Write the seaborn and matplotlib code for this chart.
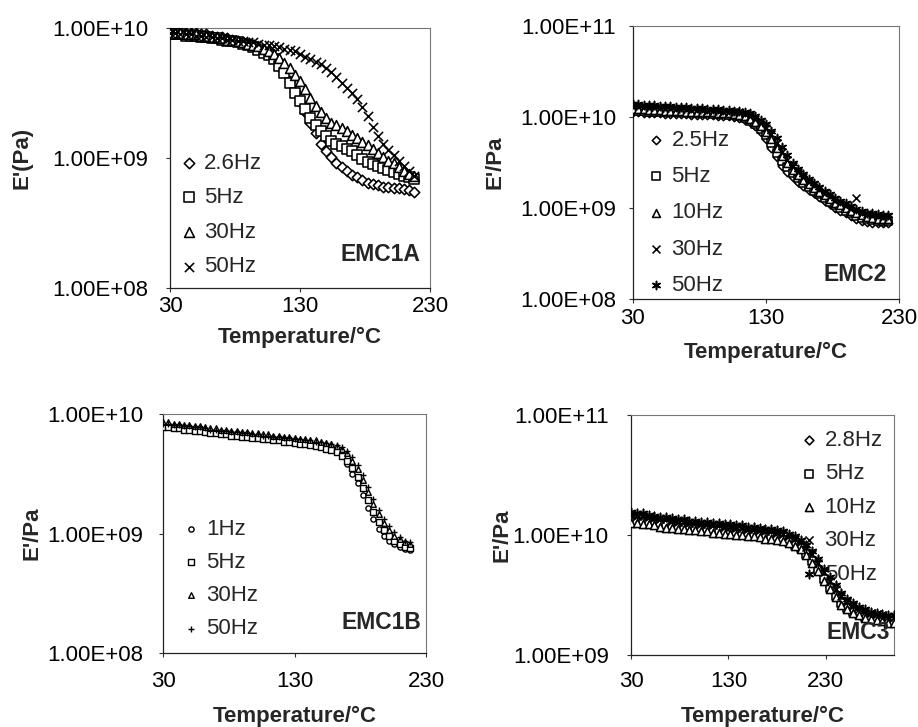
import matplotlib
matplotlib.use("Agg")
import matplotlib.pyplot as plt
from matplotlib.ticker import FixedLocator, FixedFormatter, NullLocator
import seaborn as sns

sns.set_theme(style="white")
plt.rcParams["font.family"] = ["Liberation Sans", "DejaVu Sans"]

# ---------------------------------------------------------------- data
# Storage modulus E' given as log10(E'/Pa); temperatures in deg C.

# EMC1A
t_emc1a = [30, 34, 38, 42, 46, 50, 54, 58, 62, 66, 70, 74, 78, 82, 86, 90, 94, 98,
           102, 106, 110, 114, 118, 122, 126, 130, 134, 138, 142, 146, 150, 154,
           158, 162, 166, 170, 174, 178, 182, 186, 190, 194, 198, 202, 206, 210,
           214, 218]
emc1a_2p6hz = [9.97, 9.97, 9.97, 9.96, 9.96, 9.96, 9.95, 9.95, 9.94, 9.93, 9.93, 9.92,
               9.91, 9.90, 9.89, 9.88, 9.86, 9.84, 9.82, 9.80, 9.77, 9.72, 9.66, 9.59,
               9.51, 9.43, 9.35, 9.27, 9.19, 9.11, 9.05, 9.01, 8.96, 8.93, 8.90, 8.87,
               8.85, 8.83, 8.81, 8.80, 8.79, 8.78, 8.78, 8.77, 8.77, 8.76, 8.75, 8.74]
emc1a_5hz = [9.95, 9.95, 9.95, 9.94, 9.94, 9.94, 9.93, 9.93, 9.92, 9.92, 9.91, 9.90,
             9.90, 9.89, 9.88, 9.87, 9.85, 9.83, 9.81, 9.79, 9.76, 9.71, 9.65, 9.58,
             9.50, 9.44, 9.38, 9.31, 9.25, 9.21, 9.17, 9.13, 9.11, 9.09, 9.07, 9.05,
             9.02, 8.99, 8.97, 8.95, 8.94, 8.92, 8.91, 8.89, 8.88, 8.86, 8.85, 8.84]
emc1a_30hz = [9.96, 9.96, 9.96, 9.95, 9.95, 9.95, 9.94, 9.94, 9.93, 9.93, 9.92, 9.91,
              9.91, 9.90, 9.89, 9.88, 9.87, 9.86, 9.84, 9.82, 9.80, 9.77, 9.73, 9.69,
              9.64, 9.59, 9.53, 9.46, 9.40, 9.35, 9.31, 9.27, 9.25, 9.23, 9.21, 9.18,
              9.15, 9.12, 9.10, 9.07, 9.04, 9.01, 8.98, 8.96, 8.93, 8.90, 8.88, 8.86]
emc1a_50hz = [9.96, 9.96, 9.95, 9.95, 9.95, 9.94, 9.94, 9.93, 9.93, 9.92, 9.92, 9.91,
              9.91, 9.90, 9.90, 9.89, 9.89, 9.88, 9.87, 9.87, 9.86, 9.85, 9.84, 9.83,
              9.82, 9.80, 9.78, 9.76, 9.74, 9.72, 9.69, 9.66, 9.62, 9.58, 9.54, 9.50,
              9.45, 9.39, 9.32, 9.24, 9.17, 9.11, 9.06, 9.02, 8.98, 8.94, 8.90, 8.86]

# EMC2
t_emc2 = [30, 34, 38, 42, 46, 50, 54, 58, 62, 66, 70, 74, 78, 82, 86, 90, 94, 98,
          102, 106, 110, 114, 118, 122, 126, 130, 134, 138, 142, 146, 150, 154, 158,
          162, 166, 170, 174, 178, 182, 186, 190, 194, 198, 202, 206, 210, 214, 218,
          222]
emc2_2p5hz = [10.05, 10.05, 10.04, 10.04, 10.04, 10.04, 10.03, 10.03, 10.03, 10.03,
              10.03, 10.02, 10.02, 10.02, 10.02, 10.02, 10.01, 10.01, 10.01, 10.00,
              9.99, 9.97, 9.94, 9.90, 9.84, 9.76, 9.66, 9.56, 9.46, 9.40, 9.34, 9.29,
              9.24, 9.20, 9.16, 9.12, 9.08, 9.04, 9.00, 8.97, 8.94, 8.91, 8.88, 8.86,
              8.85, 8.84, 8.83, 8.83, 8.83]
emc2_5hz = [10.07, 10.07, 10.07, 10.06, 10.06, 10.06, 10.06, 10.05, 10.05, 10.05,
            10.05, 10.04, 10.04, 10.04, 10.04, 10.03, 10.03, 10.03, 10.02, 10.02,
            10.01, 9.99, 9.96, 9.92, 9.87, 9.80, 9.71, 9.61, 9.52, 9.45, 9.39, 9.33,
            9.28, 9.23, 9.19, 9.15, 9.11, 9.07, 9.03, 9.00, 8.97, 8.94, 8.91, 8.89,
            8.88, 8.87, 8.86, 8.86, 8.86]
emc2_10hz = [10.09, 10.09, 10.09, 10.08, 10.08, 10.08, 10.07, 10.07, 10.07, 10.07,
             10.06, 10.06, 10.06, 10.05, 10.05, 10.05, 10.04, 10.04, 10.04, 10.03,
             10.02, 10.01, 9.98, 9.95, 9.90, 9.84, 9.76, 9.66, 9.57, 9.49, 9.42, 9.36,
             9.31, 9.26, 9.22, 9.18, 9.14, 9.10, 9.06, 9.03, 9.00, 8.97, 8.94, 8.92,
             8.90, 8.89, 8.88, 8.88, 8.88]
emc2_30hz = [10.12, 10.12, 10.11, 10.11, 10.11, 10.10, 10.10, 10.10, 10.09, 10.09,
             10.09, 10.08, 10.08, 10.08, 10.07, 10.07, 10.07, 10.06, 10.06, 10.05,
             10.05, 10.03, 10.01, 9.98, 9.94, 9.88, 9.81, 9.72, 9.62, 9.53, 9.46, 9.40,
             9.34, 9.29, 9.25, 9.21, 9.17, 9.13, 9.09, 9.06, 9.03, 9.00, 9.11, 8.95,
             8.93, 8.92, 8.91, 8.90, 8.90]
emc2_50hz = [10.14, 10.14, 10.13, 10.13, 10.13, 10.12, 10.12, 10.12, 10.11, 10.11,
             10.11, 10.10, 10.10, 10.10, 10.09, 10.09, 10.09, 10.08, 10.08, 10.07,
             10.07, 10.06, 10.04, 10.01, 9.97, 9.92, 9.85, 9.77, 9.67, 9.58, 9.50, 9.43,
             9.37, 9.32, 9.27, 9.23, 9.19, 9.15, 9.11, 9.08, 9.05, 9.02, 8.99, 8.97,
             8.95, 8.94, 8.93, 8.92, 8.92]

# EMC1B
t_emc1b = [30, 34, 38, 42, 46, 50, 54, 58, 62, 66, 70, 74, 78, 82, 86, 90, 94, 98,
           102, 106, 110, 114, 118, 122, 126, 130, 134, 138, 142, 146, 150, 154, 158,
           162, 166, 170, 174, 178, 182, 186, 190, 194, 198, 202, 206, 210, 214, 218]
emc1b_1hz = [9.91, 9.91, 9.90, 9.90, 9.89, 9.89, 9.88, 9.88, 9.87, 9.86, 9.86, 9.85,
             9.85, 9.84, 9.84, 9.83, 9.83, 9.82, 9.82, 9.81, 9.81, 9.80, 9.80, 9.79,
             9.79, 9.78, 9.77, 9.77, 9.76, 9.75, 9.74, 9.73, 9.72, 9.70, 9.65, 9.58,
             9.50, 9.42, 9.32, 9.21, 9.12, 9.04, 8.98, 8.94, 8.91, 8.89, 8.87, 8.86]
emc1b_5hz = [9.89, 9.89, 9.88, 9.88, 9.87, 9.87, 9.86, 9.86, 9.85, 9.84, 9.84, 9.83,
             9.83, 9.82, 9.82, 9.81, 9.81, 9.80, 9.80, 9.79, 9.79, 9.78, 9.78, 9.77,
             9.77, 9.76, 9.75, 9.75, 9.74, 9.73, 9.72, 9.71, 9.70, 9.68, 9.65, 9.61,
             9.55, 9.47, 9.38, 9.28, 9.18, 9.10, 9.03, 8.98, 8.94, 8.91, 8.89, 8.88]
emc1b_30hz = [9.93, 9.93, 9.92, 9.92, 9.91, 9.91, 9.90, 9.90, 9.89, 9.88, 9.88, 9.87,
              9.87, 9.86, 9.86, 9.85, 9.85, 9.84, 9.84, 9.83, 9.83, 9.82, 9.82, 9.81,
              9.81, 9.80, 9.79, 9.79, 9.78, 9.78, 9.77, 9.76, 9.75, 9.73, 9.71, 9.67,
              9.61, 9.54, 9.45, 9.35, 9.25, 9.16, 9.09, 9.03, 8.98, 8.95, 8.93, 8.91]
emc1b_50hz = [9.92, 9.92, 9.91, 9.91, 9.90, 9.90, 9.89, 9.89, 9.88, 9.87, 9.87, 9.86,
              9.86, 9.85, 9.85, 9.84, 9.84, 9.83, 9.83, 9.82, 9.82, 9.81, 9.81, 9.80,
              9.80, 9.79, 9.79, 9.78, 9.78, 9.77, 9.77, 9.76, 9.75, 9.74, 9.72, 9.69,
              9.64, 9.57, 9.49, 9.39, 9.29, 9.20, 9.12, 9.06, 9.01, 8.97, 8.94, 8.93]

# EMC3
t_emc3 = [30, 36, 42, 48, 54, 60, 66, 72, 78, 84, 90, 96, 102, 108, 114, 120, 126,
          132, 138, 144, 150, 156, 162, 168, 174, 180, 186, 192, 198, 204, 210, 216,
          222, 228, 234, 240, 246, 252, 258, 264, 270, 276, 282, 288, 294, 300]
emc3_2p8hz = [10.14, 10.13, 10.13, 10.12, 10.11, 10.10, 10.10, 10.09, 10.08, 10.08,
              10.07, 10.07, 10.06, 10.06, 10.05, 10.05, 10.04, 10.04, 10.03, 10.03,
              10.02, 10.02, 10.01, 10.00, 10.00, 9.99, 9.97, 9.95, 9.93, 9.89, 9.84,
              9.78, 9.71, 9.64, 9.57, 9.50, 9.45, 9.41, 9.38, 9.35, 9.33, 9.32, 9.31,
              9.30, 9.29, 9.29]
emc3_5hz = [10.11, 10.11, 10.10, 10.10, 10.09, 10.08, 10.08, 10.07, 10.06, 10.06,
            10.05, 10.05, 10.04, 10.04, 10.03, 10.03, 10.02, 10.02, 10.01, 10.01,
            10.00, 10.00, 9.99, 9.98, 9.98, 9.97, 9.96, 9.94, 9.92, 9.89, 9.84, 9.78,
            9.71, 9.63, 9.56, 9.49, 9.43, 9.39, 9.36, 9.34, 9.32, 9.31, 9.30, 9.29,
            9.28, 9.28]
emc3_10hz = [10.10, 10.10, 10.09, 10.09, 10.08, 10.07, 10.06, 10.06, 10.05, 10.05,
             10.04, 10.04, 10.03, 10.03, 10.02, 10.02, 10.01, 10.01, 10.00, 10.00,
             9.99, 9.99, 9.98, 9.97, 9.97, 9.96, 9.95, 9.93, 9.91, 9.88, 9.83, 9.77,
             9.70, 9.62, 9.55, 9.48, 9.42, 9.38, 9.35, 9.33, 9.31, 9.30, 9.29, 9.28,
             9.27, 9.27]
emc3_30hz = [10.17, 10.16, 10.16, 10.15, 10.14, 10.13, 10.13, 10.12, 10.11, 10.11,
             10.10, 10.10, 10.09, 10.09, 10.08, 10.08, 10.07, 10.07, 10.06, 10.06,
             10.05, 10.05, 10.04, 10.03, 10.03, 10.02, 10.01, 9.99, 9.97, 9.94, 9.90,
             9.84, 9.77, 9.69, 9.62, 9.55, 9.49, 9.44, 9.41, 9.38, 9.36, 9.35, 9.34,
             9.33, 9.32, 9.32]
emc3_50hz = [10.19, 10.18, 10.18, 10.17, 10.16, 10.15, 10.15, 10.14, 10.13, 10.13,
             10.12, 10.12, 10.11, 10.11, 10.10, 10.10, 10.09, 10.09, 10.08, 10.08,
             10.07, 10.07, 10.06, 10.05, 10.05, 10.04, 10.03, 10.01, 9.99, 9.96, 9.92,
             9.87, 9.80, 9.72, 9.65, 9.58, 9.52, 9.47, 9.43, 9.40, 9.38, 9.36, 9.35,
             9.34, 9.33, 9.33]

x_ticks = [30, 130, 230]
x_ticklabels = ["30", "130", "230"]
y_ticks_8_10 = [1e8, 1e9, 1e10]
y_ticklabels_8_10 = ["1.00E+08", "1.00E+09", "1.00E+10"]
y_ticks_8_11 = [1e8, 1e9, 1e10, 1e11]
y_ticklabels_8_11 = ["1.00E+08", "1.00E+09", "1.00E+10", "1.00E+11"]
y_ticks_9_11 = [1e9, 1e10, 1e11]
y_ticklabels_9_11 = ["1.00E+09", "1.00E+10", "1.00E+11"]

# ---------------------------------------------------------------- styles
ASTERISK = (6, 2, 0)
FILLED = {"D", "s", "^", "o"}

FS_TICK = 16
FS_LABEL = 16
FS_LEGEND = 16


def draw_series(ax, t, logv, label, marker, size, lw=1.15):
    values = [10.0 ** v for v in logv]
    if marker in FILLED:
        sns.scatterplot(x=t, y=values, ax=ax, marker=marker, s=size, color="white",
                        edgecolor="black", linewidth=lw, label=label, zorder=3)
    else:
        sns.scatterplot(x=t, y=values, ax=ax, marker=marker, s=size, color="black",
                        linewidth=lw, label=label, zorder=3)


def style_axes(ax, xlim, ylim, yticks, yticklabels, ylabel, tag,
               ylab_x, xlab_y, ypad, xpad, tag_xy, leg_anchor, leg_spacing,
               legend_under_data=False):
    ax.set_yscale("log")
    ax.set_xlim(*xlim)
    ax.set_ylim(*ylim)
    ax.xaxis.set_major_locator(FixedLocator(x_ticks))
    ax.xaxis.set_major_formatter(FixedFormatter(x_ticklabels))
    ax.yaxis.set_major_locator(FixedLocator(yticks))
    ax.yaxis.set_major_formatter(FixedFormatter(yticklabels))
    ax.yaxis.set_minor_locator(NullLocator())
    ax.xaxis.set_minor_locator(NullLocator())
    ax.tick_params(axis="both", which="major", direction="out", length=3,
                   width=0.8, color="#333333", labelsize=FS_TICK, labelcolor="black",
                   bottom=True, left=True)
    ax.tick_params(axis="y", pad=ypad)
    ax.tick_params(axis="x", pad=xpad)
    for side in ("left", "bottom"):
        ax.spines[side].set_color("#222222")
        ax.spines[side].set_linewidth(0.9)
    for side in ("top", "right"):
        ax.spines[side].set_color("#777777")
        ax.spines[side].set_linewidth(0.8)
    ax.set_ylabel(ylabel, fontsize=FS_LABEL, fontweight="bold", va="center")
    ax.yaxis.set_label_coords(ylab_x, 0.5)
    ax.set_xlabel("Temperature/°C", fontsize=FS_LABEL, fontweight="bold", va="center")
    ax.xaxis.set_label_coords(0.5, xlab_y)
    ax.text(tag_xy[0], tag_xy[1], tag, transform=ax.transAxes, ha="right",
            va="center", fontsize=16.5, fontweight="bold", zorder=5)
    leg = ax.legend(loc="upper left", bbox_to_anchor=leg_anchor, frameon=False,
                    fontsize=FS_LEGEND, handlelength=0.8, handletextpad=0.3,
                    labelspacing=leg_spacing, borderpad=0, borderaxespad=0,
                    scatterpoints=1)
    if legend_under_data:
        leg.set_zorder(2)
    ax.set_facecolor("white")


fig = plt.figure(figsize=(9.18, 7.27), dpi=100, facecolor="white")

# EMC1A
ax1 = fig.add_axes([0.1852, 0.6039, 0.2832, 0.3576])
draw_series(ax1, t_emc1a, emc1a_2p6hz, "2.6Hz", "D", 28)
draw_series(ax1, t_emc1a, emc1a_5hz, "5Hz", "s", 50)
draw_series(ax1, t_emc1a, emc1a_30hz, "30Hz", "^", 50)
draw_series(ax1, t_emc1a, emc1a_50hz, "50Hz", "x", 44)
style_axes(ax1, (30, 230), (1e8, 1e10), y_ticks_8_10, y_ticklabels_8_10, "E'(Pa)",
           "EMC1A", -0.569, -0.192, 12.5, 3.0, (0.962, 0.127), (0.038, 0.52), 0.61)

# EMC2
ax2 = fig.add_axes([0.6895, 0.5887, 0.2898, 0.3755])
draw_series(ax2, t_emc2, emc2_2p5hz, "2.5Hz", "D", 18)
draw_series(ax2, t_emc2, emc2_5hz, "5Hz", "s", 32)
draw_series(ax2, t_emc2, emc2_10hz, "10Hz", "^", 32)
draw_series(ax2, t_emc2, emc2_30hz, "30Hz", "x", 32)
draw_series(ax2, t_emc2, emc2_50hz, "50Hz", ASTERISK, 34)
style_axes(ax2, (30, 230), (1e8, 1e11), y_ticks_8_11, y_ticklabels_8_11, "E'/Pa",
           "EMC2", -0.519, -0.194, 9.0, 3.8, (0.955, 0.088), (0.053, 0.62), 0.69)

# EMC1B
ax3 = fig.add_axes([0.1776, 0.1018, 0.2865, 0.3287])
draw_series(ax3, t_emc1b, emc1b_1hz, "1Hz", "o", 14, 1.0)
draw_series(ax3, t_emc1b, emc1b_5hz, "5Hz", "s", 16, 1.0)
draw_series(ax3, t_emc1b, emc1b_30hz, "30Hz", "^", 16, 1.0)
draw_series(ax3, t_emc1b, emc1b_50hz, "50Hz", "+", 19, 1.0)
style_axes(ax3, (30, 230), (1e8, 1e10), y_ticks_8_10, y_ticklabels_8_10, "E'/Pa",
           "EMC1B", -0.498, -0.264, 11.0, 10.0, (0.981, 0.126), (0.072, 0.562), 0.55)

# EMC3
ax4 = fig.add_axes([0.6874, 0.0990, 0.2865, 0.3301])
draw_series(ax4, t_emc3, emc3_2p8hz, "2.8Hz", "D", 20)
draw_series(ax4, t_emc3, emc3_5hz, "5Hz", "s", 34)
draw_series(ax4, t_emc3, emc3_10hz, "10Hz", "^", 34)
draw_series(ax4, t_emc3, emc3_30hz, "30Hz", "x", 34)
draw_series(ax4, t_emc3, emc3_50hz, "50Hz", ASTERISK, 36)
style_axes(ax4, (30, 300), (1e9, 1e11), y_ticks_9_11, y_ticklabels_9_11, "E'/Pa",
           "EMC3", -0.490, -0.254, 13.0, 8.6, (0.985, 0.092), (0.643, 0.938), 0.56,
           legend_under_data=True)

fig.savefig("out.png", dpi=100, facecolor="white")
